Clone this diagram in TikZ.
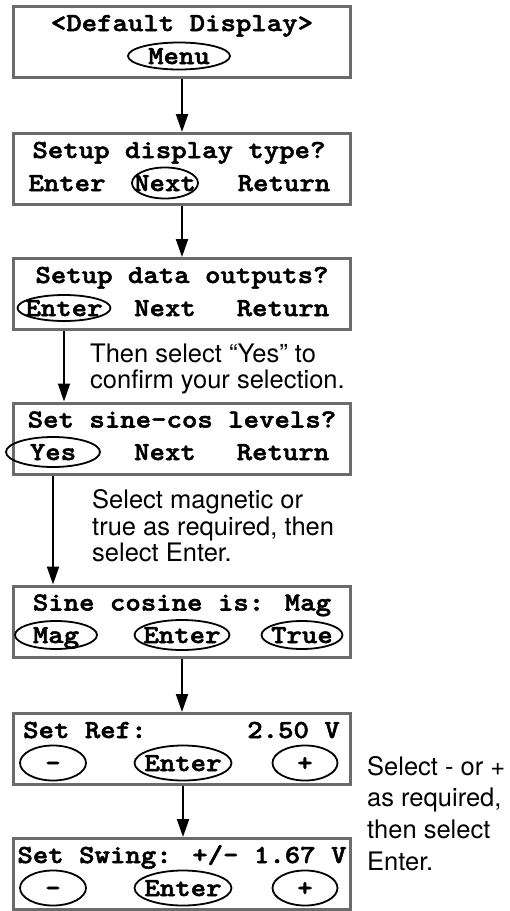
\documentclass[tikz,border=0pt]{standalone}
\usepackage{fontspec}
\usetikzlibrary{shapes.geometric, arrows.meta, positioning}

\newfontfamily\lcdfont{lmmonolt10-bold.otf}[FakeStretch=1.13, FakeBold=2]
\newfontfamily\notefont{TeX Gyre Heros}
\definecolor{framegray}{gray}{0.42}
\newcommand{\btn}[1]{\makebox[0pt]{#1}}

\begin{document}
\begin{tikzpicture}[
    x=1pt, y=-1pt,
    lcdbox/.style={rectangle, draw=framegray, line width=3pt, minimum width=337pt, minimum height=71pt, inner sep=0pt},
    lcdtext/.style={font=\lcdfont\fontsize{26}{28}\selectfont, inner sep=0pt, text height=16pt, text depth=0pt},
    keyoval/.style={lcdtext, ellipse, draw, line width=1.8pt},
    flow/.style={-{Triangle[length=18pt, width=12pt]}, line width=2pt},
    note/.style={font=\notefont\fontsize{25.5}{26.5}\selectfont, align=left, inner sep=0pt, anchor=north west},
    noteloose/.style={note, font=\notefont\fontsize{25.5}{31.7}\selectfont}
  ]
  \useasboundingbox (0,0) rectangle (510,911);

  % Displays
  \node[lcdbox] (b1) at (182,42) {};
  \node[lcdtext] (t1) at (182,23) {<Default Display>};
  \node[keyoval, minimum width=102pt, minimum height=27pt] (menu1) at (179,56) {\btn{Menu}};

  \node[lcdbox] (b2) at (182,169) {};
  \node[lcdtext] (t2) at (179,150) {Setup display type?};
  \node[lcdtext] (enter2) at (67,183) {Enter};
  \node[keyoval, minimum width=66pt, minimum height=31pt] (next2) at (165,183) {\btn{Next}};
  \node[lcdtext] (return2) at (284,183) {Return};

  \node[lcdbox] (b3) at (182,294) {};
  \node[lcdtext] (t3) at (182,275) {Setup data outputs?};
  \node[keyoval, minimum width=93pt, minimum height=26pt] (enter3) at (64,308) {\btn{Enter}};
  \node[lcdtext] (next3) at (165,308) {Next};
  \node[lcdtext] (return3) at (283,308) {Return};

  \node[lcdbox] (b4) at (182,438.5) {};
  \node[lcdtext] (t4) at (182,419.5) {Set sine-cos levels?};
  \node[keyoval, minimum width=94pt, minimum height=30pt] (yes4) at (53,452) {\btn{Yes}};
  \node[lcdtext] (next4) at (165,452) {Next};
  \node[lcdtext] (return4) at (283,452) {Return};

  \node[lcdbox] (b5) at (182,621.5) {};
  \node[lcdtext] (t5) at (182,602.5) {Sine cosine is: Mag};
  \node[keyoval, minimum width=82pt, minimum height=28pt] (mag5) at (56,635) {\btn{Mag}};
  \node[keyoval, minimum width=95pt, minimum height=30pt] (enter5) at (182,635) {\btn{Enter}};
  \node[keyoval, minimum width=81pt, minimum height=28pt] (true5) at (302,635) {\btn{True}};

  \node[lcdbox] (b6) at (182,749) {};
  \node[lcdtext, anchor=west] (ref6) at (23,730) {Set Ref:};
  \node[lcdtext, anchor=east] (val6) at (340,730) {2.50 V};
  \node[keyoval, minimum width=66pt, minimum height=35pt] (minus6) at (53,763) {\btn{-}};
  \node[keyoval, minimum width=97pt, minimum height=35pt] (enter6) at (183,763) {\btn{Enter}};
  \node[keyoval, minimum width=65pt, minimum height=35pt] (plus6) at (305,763) {\btn{+}};

  \node[lcdbox] (b7) at (182,874) {};
  \node[lcdtext] (t7) at (182,855) {Set Swing: +/- 1.67 V};
  \node[keyoval, minimum width=66pt, minimum height=35pt] (minus7) at (53,888) {\btn{-}};
  \node[keyoval, minimum width=97pt, minimum height=35pt] (enter7) at (183,888) {\btn{Enter}};
  \node[keyoval, minimum width=65pt, minimum height=35pt] (plus7) at (305,888) {\btn{+}};

  % Hints
  \node[note] (hint3) at (90,343.5) {Then select “Yes” to\\confirm your selection.};
  \node[note] (hint4) at (92,489.5) {Select magnetic or\\true as required, then\\select Enter.};
  \node[noteloose] (hint6) at (367,756) {Select - or +\\as required,\\then select\\Enter.};

  % Flow
  \draw[flow] (b1) -- (b2);
  \draw[flow] (b2) -- (b3);
  \draw[flow] (enter3 |- b3.south) -- (enter3 |- b4.north);
  \draw[flow] (yes4 |- b4.south) -- (yes4 |- b5.north);
  \draw[flow] (enter5 |- b5.south) -- (enter5 |- b6.north);
  \draw[flow] (enter6 |- b6.south) -- (enter6 |- b7.north);
\end{tikzpicture}
\end{document}
